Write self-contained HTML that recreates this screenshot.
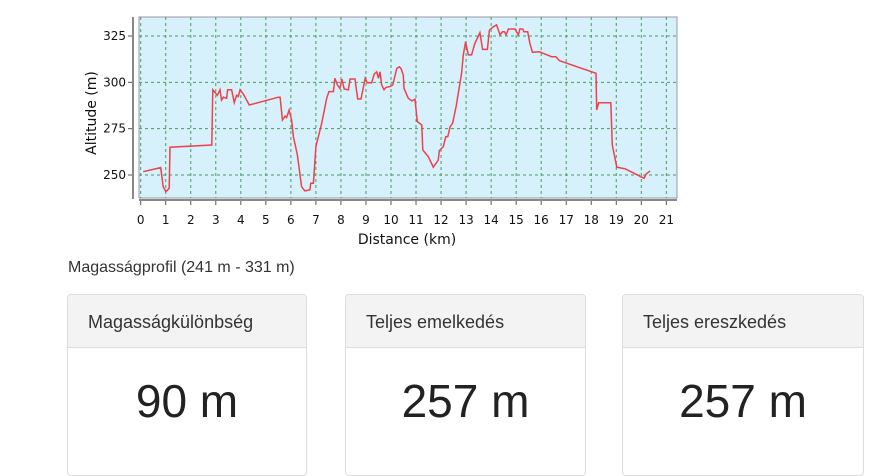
<!DOCTYPE html>
<html><head><meta charset="utf-8">
<style>
body{margin:0;width:872px;height:459px;background:#fff;overflow:hidden;font-family:"Liberation Sans","DejaVu Sans",sans-serif;position:relative}
#chart{position:absolute;left:0;top:0}
.cap{position:absolute;left:68px;top:259px;font-size:16px;color:#333}
.card{position:absolute;top:294px;height:180px;border:1px solid #ddd;border-radius:4px;background:#fff}
.card .hd{height:52px;background:#f3f3f3;border-bottom:1px solid #ddd;font-size:18px;color:#333;line-height:54px;padding-left:20px;border-radius:4px 4px 0 0}
.card .val{text-align:center;font-size:46px;color:#222;margin-top:26px}
</style></head><body>
<svg id="chart" width="690" height="250" xmlns="http://www.w3.org/2000/svg"></svg>
<div class="cap">Magasságprofil (241 m - 331 m)</div>
<div class="card" style="left:67px;width:238px"><div class="hd">Magasságkülönbség</div><div class="val">90 m</div></div>
<div class="card" style="left:345px;width:239px"><div class="hd">Teljes emelkedés</div><div class="val">257 m</div></div>
<div class="card" style="left:622px;width:240px"><div class="hd">Teljes ereszkedés</div><div class="val">257 m</div></div>
<script>
const distKm=[0.1,0.8,0.9,1.01,1.14,1.17,2.84,2.88,3.06,3.17,3.23,3.3,3.43,3.47,3.63,3.74,3.83,3.9,3.97,4.1,4.34,5.5,5.57,5.66,5.77,5.83,5.93,6.03,6.1,6.26,6.43,6.56,6.76,6.79,6.9,7.0,7.23,7.43,7.52,7.7,7.76,7.86,7.96,8.04,8.13,8.3,8.36,8.56,8.67,8.8,8.97,9.05,9.23,9.33,9.43,9.5,9.56,9.63,9.72,9.8,9.96,10.07,10.23,10.33,10.4,10.49,10.52,10.69,10.83,10.96,11.05,11.23,11.27,11.49,11.69,11.89,11.93,12.09,12.19,12.27,12.36,12.46,12.6,12.82,12.89,12.98,13.09,13.22,13.35,13.51,13.55,13.62,13.66,13.85,13.93,14.09,14.22,14.29,14.36,14.45,14.53,14.6,14.69,14.95,15.09,15.15,15.26,15.31,15.46,15.55,15.65,15.93,16.42,16.59,16.73,18.19,18.22,18.3,18.78,18.84,19.02,19.35,20.11,20.19,20.35];
const altM=[251.8,254,243.7,241,242.8,265,266.2,296,293,296,290.5,292,291.4,296,296,289,293,292.3,296,293.7,287.8,292,292,279.7,281.8,281,285,279.7,270.7,260.8,243.7,241.4,242,245.5,245.5,265.3,277.9,291.4,295,295,302.2,298.6,296.8,301.8,296.4,295.9,301.8,301.8,291,291,302.2,299.8,299.8,304.5,305.7,302.2,305.7,298.6,296,297.3,297.7,298.6,307.6,308.4,307.5,304,296.8,291.4,290,290.9,278.8,277,263.5,259.9,254.2,258.1,263.1,265.3,270.7,270.7,276,277.9,286.9,304.9,314.8,321.9,314.8,314.8,321.1,325.6,326.8,321.1,317.8,317.8,328.2,330,331,328.2,325.6,327.3,327.3,325.6,328.8,328.8,325.6,328.8,328.8,327.3,327.3,321.1,316.2,316.5,313.8,313.8,311.7,304.9,285.1,289,289,266.2,254.2,253.4,248.2,250.5,252.2];
const xTicks=[0,1,2,3,4,5,6,7,8,9,10,11,12,13,14,15,16,17,18,19,20,21];
const yTicks=[250,275,300,325];
const NS="http://www.w3.org/2000/svg";
const svg=document.getElementById('chart');
const X=v=>140.7+v*25.03;
const Y=v=>175-(v-250)*1.853;
function mk(tag,attrs){const e=document.createElementNS(NS,tag);for(const k in attrs)e.setAttribute(k,attrs[k]);svg.appendChild(e);return e;}
const bg=mk('rect',{x:139,y:17,width:538,height:181,fill:'#d6f1fc',stroke:'#999','stroke-width':1});


xTicks.forEach(t=>{
  const g=mk('line',{x1:X(t),x2:X(t),y1:17,y2:198,stroke:'#4a9a5a','stroke-width':1,'stroke-dasharray':'3,3'});
  
  
  const tk=mk('line',{x1:X(t),x2:X(t),y1:200,y2:205,stroke:'#555'});
  
  
  const tx=mk('text',{x:X(t),y:224,'text-anchor':'middle','font-size':12,fill:'#111','font-family':'DejaVu Sans, sans-serif'});
  tx.textContent=t;
  
  
});
yTicks.forEach(t=>{
  const g=mk('line',{x1:139,x2:677,y1:Y(t),y2:Y(t),stroke:'#4a9a5a','stroke-width':1,'stroke-dasharray':'3,3'});
  
  
  const tk=mk('line',{x1:128,x2:133,y1:Y(t),y2:Y(t),stroke:'#555'});
  
  
  const tx=mk('text',{x:126,y:Y(t)+4,'text-anchor':'end','font-size':12,fill:'#111','font-family':'DejaVu Sans, sans-serif'});
  tx.textContent=t;
  
  
});
const ya=mk('line',{x1:133,x2:133,y1:17,y2:199,stroke:'#888','stroke-width':2});


const xa=mk('line',{x1:139,x2:677,y1:200,y2:200,stroke:'#888','stroke-width':2});


const line=mk('polyline',{points:distKm.map((d,i)=>X(d).toFixed(1)+','+Y(altM[i]).toFixed(1)).join(' '),fill:'none',stroke:'#f0404a','stroke-width':1.5});


const xt=mk('text',{x:407,y:244,'text-anchor':'middle','font-size':14,fill:'#111','font-family':'DejaVu Sans, sans-serif'});
xt.textContent='Distance (km)';


const yt=mk('text',{x:0,y:0,'text-anchor':'middle','font-size':14,fill:'#111','font-family':'DejaVu Sans, sans-serif',transform:'translate(96,113) rotate(-90)'});
yt.textContent='Altitude (m)';


</script>
</body></html>
